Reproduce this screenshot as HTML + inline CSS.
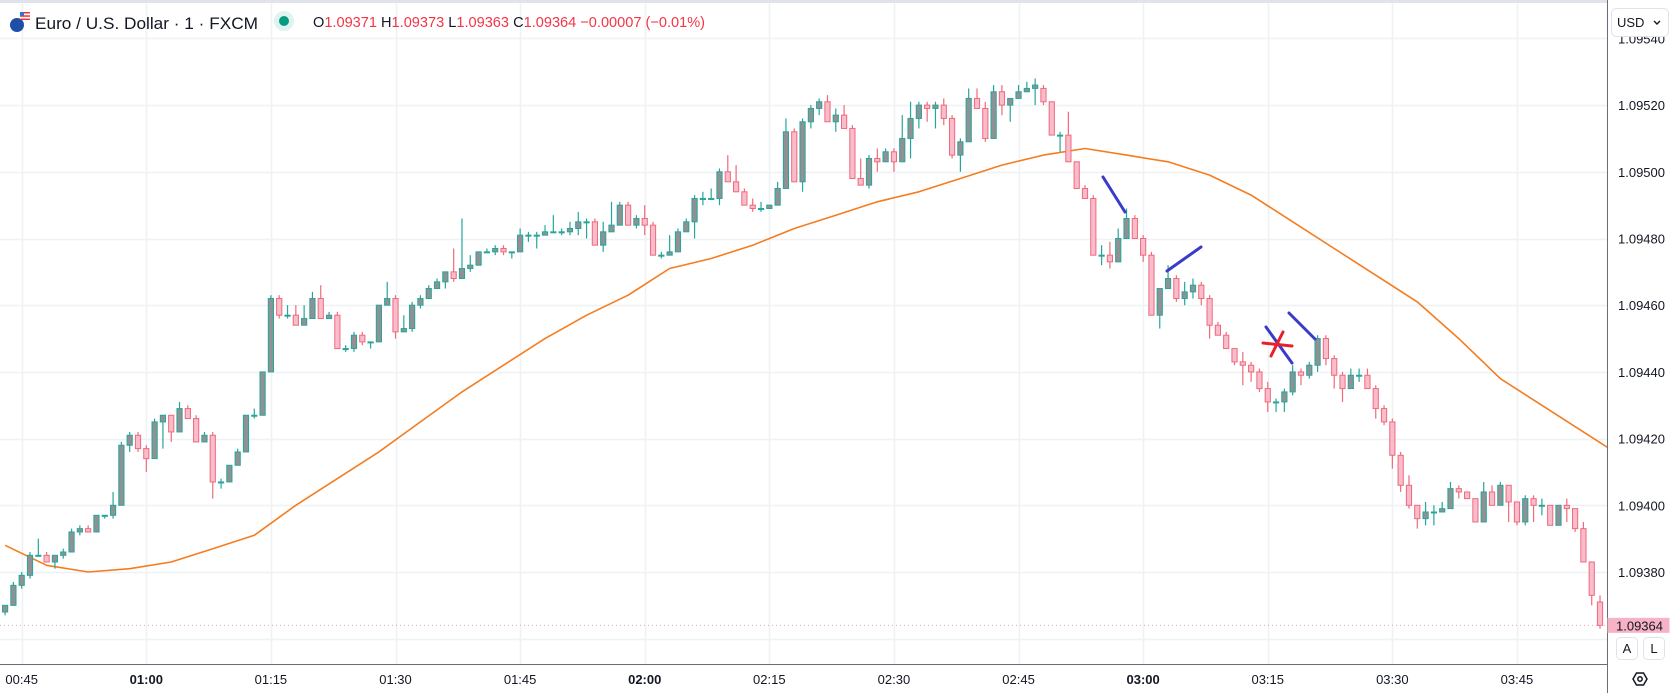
<!DOCTYPE html>
<html><head><meta charset="utf-8"><title>EURUSD 1m</title>
<style>
html,body{margin:0;padding:0;background:#fff;width:1674px;height:693px;overflow:hidden;font-family:"Liberation Sans",sans-serif}
svg{display:block}
text{font-family:"Liberation Sans",sans-serif}
</style></head><body>
<svg id="chart" width="1674" height="693" viewBox="0 0 1674 693" xmlns="http://www.w3.org/2000/svg">
<defs><clipPath id="plotClip"><rect x="0" y="0" width="1607" height="664"/></clipPath></defs>
<rect x="0" y="0" width="1674" height="693" fill="#ffffff"/>
<g id="grid"></g>
<g id="ma" clip-path="url(#plotClip)"></g>
<g id="candles" clip-path="url(#plotClip)"></g>
<g id="drawings">
  <line x1="1103" y1="177" x2="1125" y2="212" stroke="#3a3acb" stroke-width="3" stroke-linecap="round"/>
  <line x1="1167" y1="271" x2="1201" y2="247" stroke="#3a3acb" stroke-width="3" stroke-linecap="round"/>
  <line x1="1266" y1="327" x2="1292" y2="363" stroke="#3a3acb" stroke-width="3" stroke-linecap="round"/>
  <line x1="1289" y1="313" x2="1315" y2="339" stroke="#3a3acb" stroke-width="3" stroke-linecap="round"/>
  <line x1="1263" y1="343" x2="1292" y2="346" stroke="#e8202a" stroke-width="3" stroke-linecap="round"/>
  <line x1="1283" y1="332" x2="1271" y2="356" stroke="#e8202a" stroke-width="3" stroke-linecap="round"/>
</g>
<g id="axes"></g>
<g>
  <rect x="0" y="0" width="1607" height="3" fill="#e0e3eb"/>
  <g>
    <circle cx="17" cy="25" r="7" fill="#1e4fa8"/>
    <rect x="20" y="12" width="10" height="8" fill="#e33"/>
    <rect x="20" y="13.5" width="10" height="1.8" fill="#fff"/>
    <rect x="20" y="16.8" width="10" height="1.8" fill="#fff"/>
    <rect x="20" y="12" width="4" height="4" fill="#3b6fd0"/>
  </g>
  <text x="35" y="29" font-size="17" fill="#131722" textLength="223" lengthAdjust="spacingAndGlyphs">Euro / U.S. Dollar · 1 · FXCM</text>
  <circle cx="284" cy="21" r="10" fill="#dff3ef"/>
  <circle cx="284" cy="21" r="5" fill="#089981"/>
  <text x="313" y="27" font-size="15" textLength="392" lengthAdjust="spacingAndGlyphs"><tspan fill="#131722">O</tspan><tspan fill="#f23645">1.09371</tspan><tspan fill="#131722"> H</tspan><tspan fill="#f23645">1.09373</tspan><tspan fill="#131722"> L</tspan><tspan fill="#f23645">1.09363</tspan><tspan fill="#131722"> C</tspan><tspan fill="#f23645">1.09364 −0.00007 (−0.01%)</tspan></text>
</g>
<g>
  <rect x="1611.5" y="8.5" width="57" height="28" rx="5" fill="#fff" stroke="#e0e3eb"/>
  <text x="1617" y="27" font-size="13" fill="#131722">USD</text>
  <path d="M1654 21 l3 3 l3 -3" fill="none" stroke="#131722" stroke-width="1.4"/>
</g>
<g>
  <rect x="1616.5" y="637.5" width="21" height="22" rx="4" fill="#fff" stroke="#e0e3eb"/>
  <text x="1627" y="653" font-size="13" fill="#131722" text-anchor="middle">A</text>
</g>
<g>
  <rect x="1643.5" y="637.5" width="21" height="22" rx="4" fill="#fff" stroke="#e0e3eb"/>
  <text x="1654" y="653" font-size="13" fill="#131722" text-anchor="middle">L</text>
</g>
<g>
  <path d="M1633 679 l3.5 -6 h7 l3.5 6 l-3.5 6 h-7 z" fill="none" stroke="#131722" stroke-width="1.5"/>
  <circle cx="1640" cy="679" r="2.2" fill="none" stroke="#131722" stroke-width="1.5"/>
</g>
</svg>
<script>
// ---- data ----
const startMinute = 43; // 00:43
const openPrices = [1.09368,1.09370,1.09376,1.09379,1.09385,1.09385,1.09383,1.09385,1.09386,1.09392,1.09393,1.09392,1.09397,1.09397,1.09400,1.09418,1.09421,1.09417,1.09414,1.09425,1.09427,1.09422,1.09429,1.09426,1.09419,1.09421,1.09407,1.09407,1.09412,1.09416,1.09427,1.09427,1.09440,1.09462,1.09457,1.09457,1.09454,1.09456,1.09462,1.09456,1.09457,1.09447,1.09447,1.09451,1.09449,1.09449,1.09460,1.09462,1.09452,1.09453,1.09460,1.09462,1.09465,1.09467,1.09470,1.09468,1.09471,1.09472,1.09476,1.09476,1.09477,1.09476,1.09476,1.09481,1.09481,1.09481,1.09482,1.09482,1.09482,1.09483,1.09485,1.09485,1.09478,1.09482,1.09484,1.09490,1.09484,1.09486,1.09484,1.09475,1.09475,1.09476,1.09482,1.09485,1.09492,1.09492,1.09492,1.09500,1.09497,1.09494,1.09490,1.09489,1.09489,1.09490,1.09495,1.09512,1.09497,1.09515,1.09519,1.09521,1.09515,1.09517,1.09513,1.09498,1.09496,1.09504,1.09503,1.09506,1.09503,1.09510,1.09516,1.09520,1.09519,1.09520,1.09516,1.09505,1.09509,1.09522,1.09519,1.09510,1.09524,1.09520,1.09522,1.09524,1.09525,1.09525,1.09521,1.09511,1.09511,1.09503,1.09495,1.09492,1.09475,1.09475,1.09473,1.09480,1.09486,1.09480,1.09475,1.09457,1.09465,1.09468,1.09462,1.09464,1.09466,1.09462,1.09454,1.09451,1.09447,1.09443,1.09442,1.09440,1.09435,1.09431,1.09431,1.09434,1.09440,1.09439,1.09442,1.09450,1.09444,1.09439,1.09435,1.09439,1.09439,1.09435,1.09429,1.09425,1.09415,1.09406,1.09400,1.09396,1.09398,1.09398,1.09399,1.09405,1.09404,1.09402,1.09395,1.09404,1.09400,1.09406,1.09401,1.09395,1.09402,1.09400,1.09400,1.09394,1.09400,1.09399,1.09393,1.09383,1.09371];
const highPrices = [1.09370,1.09377,1.09380,1.09386,1.09390,1.09386,1.09385,1.09387,1.09393,1.09394,1.09394,1.09397,1.09397,1.09404,1.09419,1.09422,1.09422,1.09418,1.09426,1.09427,1.09427,1.09431,1.09430,1.09427,1.09422,1.09422,1.09408,1.09412,1.09417,1.09427,1.09429,1.09440,1.09463,1.09463,1.09460,1.09460,1.09460,1.09464,1.09466,1.09458,1.09458,1.09448,1.09452,1.09452,1.09449,1.09460,1.09467,1.09463,1.09457,1.09461,1.09463,1.09466,1.09468,1.09470,1.09477,1.09486,1.09475,1.09476,1.09477,1.09478,1.09478,1.09476,1.09483,1.09482,1.09482,1.09484,1.09487,1.09483,1.09485,1.09488,1.09486,1.09486,1.09485,1.09491,1.09491,1.09491,1.09487,1.09490,1.09485,1.09476,1.09481,1.09483,1.09486,1.09493,1.09494,1.09495,1.09501,1.09505,1.09502,1.09495,1.09492,1.09491,1.09490,1.09497,1.09516,1.09513,1.09516,1.09520,1.09522,1.09523,1.09519,1.09520,1.09514,1.09504,1.09505,1.09507,1.09507,1.09507,1.09517,1.09521,1.09521,1.09521,1.09521,1.09522,1.09517,1.09510,1.09525,1.09525,1.09521,1.09526,1.09526,1.09522,1.09526,1.09527,1.09528,1.09526,1.09521,1.09512,1.09518,1.09503,1.09496,1.09493,1.09478,1.09479,1.09483,1.09489,1.09487,1.09481,1.09476,1.09465,1.09472,1.09469,1.09467,1.09468,1.09467,1.09463,1.09455,1.09452,1.09447,1.09446,1.09443,1.09441,1.09437,1.09432,1.09435,1.09442,1.09441,1.09443,1.09451,1.09451,1.09445,1.09440,1.09441,1.09441,1.09441,1.09436,1.09430,1.09426,1.09416,1.09409,1.09400,1.09401,1.09400,1.09401,1.09407,1.09406,1.09404,1.09402,1.09407,1.09406,1.09407,1.09406,1.09401,1.09403,1.09403,1.09402,1.09400,1.09400,1.09402,1.09399,1.09395,1.09383,1.09373];
const lowPrices = [1.09367,1.09370,1.09375,1.09378,1.09385,1.09383,1.09381,1.09384,1.09386,1.09391,1.09392,1.09392,1.09396,1.09396,1.09400,1.09416,1.09416,1.09410,1.09414,1.09417,1.09419,1.09422,1.09426,1.09419,1.09419,1.09402,1.09405,1.09407,1.09412,1.09416,1.09426,1.09427,1.09440,1.09456,1.09456,1.09454,1.09454,1.09456,1.09456,1.09456,1.09447,1.09446,1.09446,1.09448,1.09447,1.09449,1.09460,1.09450,1.09452,1.09452,1.09459,1.09462,1.09465,1.09465,1.09467,1.09468,1.09470,1.09472,1.09476,1.09475,1.09475,1.09474,1.09476,1.09479,1.09477,1.09481,1.09482,1.09481,1.09481,1.09481,1.09480,1.09478,1.09476,1.09482,1.09484,1.09484,1.09483,1.09481,1.09475,1.09474,1.09475,1.09476,1.09482,1.09480,1.09490,1.09492,1.09490,1.09497,1.09494,1.09490,1.09488,1.09488,1.09489,1.09490,1.09495,1.09497,1.09494,1.09513,1.09517,1.09515,1.09512,1.09513,1.09498,1.09496,1.09495,1.09500,1.09503,1.09500,1.09503,1.09504,1.09513,1.09515,1.09513,1.09514,1.09504,1.09500,1.09509,1.09519,1.09509,1.09510,1.09517,1.09515,1.09522,1.09524,1.09520,1.09520,1.09511,1.09506,1.09503,1.09495,1.09492,1.09475,1.09472,1.09471,1.09473,1.09480,1.09480,1.09473,1.09457,1.09453,1.09465,1.09461,1.09460,1.09462,1.09460,1.09450,1.09451,1.09447,1.09442,1.09436,1.09437,1.09434,1.09428,1.09428,1.09428,1.09433,1.09436,1.09438,1.09440,1.09442,1.09435,1.09431,1.09435,1.09437,1.09435,1.09426,1.09424,1.09411,1.09404,1.09399,1.09393,1.09394,1.09394,1.09398,1.09399,1.09402,1.09402,1.09395,1.09395,1.09400,1.09400,1.09395,1.09394,1.09394,1.09395,1.09397,1.09394,1.09394,1.09395,1.09392,1.09383,1.09370,1.09363];
const closePrices = [1.09370,1.09376,1.09379,1.09385,1.09385,1.09383,1.09385,1.09386,1.09392,1.09393,1.09392,1.09397,1.09397,1.09400,1.09418,1.09421,1.09417,1.09414,1.09425,1.09427,1.09422,1.09429,1.09426,1.09419,1.09421,1.09407,1.09407,1.09412,1.09416,1.09427,1.09427,1.09440,1.09462,1.09457,1.09457,1.09454,1.09456,1.09462,1.09456,1.09457,1.09447,1.09447,1.09451,1.09449,1.09449,1.09460,1.09462,1.09452,1.09453,1.09460,1.09462,1.09465,1.09467,1.09470,1.09468,1.09471,1.09472,1.09476,1.09476,1.09477,1.09476,1.09476,1.09481,1.09481,1.09481,1.09482,1.09482,1.09482,1.09483,1.09485,1.09485,1.09478,1.09482,1.09484,1.09490,1.09484,1.09486,1.09484,1.09475,1.09475,1.09476,1.09482,1.09485,1.09492,1.09492,1.09492,1.09500,1.09497,1.09494,1.09490,1.09489,1.09489,1.09490,1.09495,1.09512,1.09497,1.09515,1.09519,1.09521,1.09515,1.09517,1.09513,1.09498,1.09496,1.09504,1.09503,1.09506,1.09503,1.09510,1.09516,1.09520,1.09519,1.09520,1.09516,1.09505,1.09509,1.09522,1.09519,1.09510,1.09524,1.09520,1.09522,1.09524,1.09525,1.09526,1.09521,1.09511,1.09511,1.09503,1.09495,1.09492,1.09475,1.09475,1.09473,1.09480,1.09486,1.09480,1.09475,1.09457,1.09465,1.09468,1.09462,1.09464,1.09466,1.09462,1.09454,1.09451,1.09447,1.09443,1.09442,1.09440,1.09435,1.09431,1.09431,1.09434,1.09440,1.09439,1.09442,1.09450,1.09444,1.09439,1.09435,1.09439,1.09439,1.09435,1.09429,1.09425,1.09415,1.09406,1.09400,1.09396,1.09398,1.09398,1.09399,1.09405,1.09404,1.09402,1.09395,1.09404,1.09400,1.09406,1.09401,1.09395,1.09402,1.09400,1.09400,1.09394,1.09400,1.09399,1.09393,1.09383,1.09373,1.09364];
const maMinutes = [43,48,53,58,63,68,73,78,83,88,93,98,103,108,113,118,123,128,133,138,143,148,153,158,163,168,173,178,183,188,193,198,203,208,213,218,223,228,233,238];
const maValues = [1.09388,1.09382,1.09380,1.09381,1.09383,1.09387,1.09391,1.09400,1.09408,1.09416,1.09425,1.09434,1.09442,1.09450,1.09457,1.09463,1.09471,1.09474,1.09478,1.09483,1.09487,1.09491,1.09494,1.09498,1.09502,1.09505,1.09507,1.09505,1.09503,1.09499,1.09493,1.09485,1.09477,1.09469,1.09461,1.09450,1.09438,1.09430,1.09422,1.09414];
const priceTicks = [1.09540,1.09520,1.09500,1.09480,1.09460,1.09440,1.09420,1.09400,1.09380,1.09360];
const priceTickLabels = ["1.09540","1.09520","1.09500","1.09480","1.09460","1.09440","1.09420","1.09400","1.09380",""];
const timeTicks = [45,60,75,90,105,120,135,150,165,180,195,210,225];
const timeTickLabels = ["00:45","01:00","01:15","01:30","01:45","02:00","02:15","02:30","02:45","03:00","03:15","03:30","03:45"];
const lastPrice = 1.09364;

// ---- axis functions ----
const plotRight = 1607, plotBottom = 664;
function yScale(p){ return 572 - (p - 1.09380) * 333500; }
function xScale(m){ return 21.7 + (m - 45) * 8.307; }

const NS = "http://www.w3.org/2000/svg";
function mk(tag, attrs, parent){ const e = document.createElementNS(NS, tag); for (const k in attrs) e.setAttribute(k, attrs[k]); parent.appendChild(e); return e; }

const grid = document.getElementById('grid');
priceTicks.forEach(p => {
  const y = Math.round(yScale(p)) + 0.5;
  const l = mk('line', {x1:0, x2:plotRight, y1:y, y2:y, stroke:'#eef1f5', 'stroke-width':1.5}, grid);
  
  
});
timeTicks.forEach(m => {
  const x = Math.round(xScale(m)) + 0.5;
  const l = mk('line', {x1:x, x2:x, y1:0, y2:plotBottom, stroke:'#eef1f5', 'stroke-width':1.5}, grid);
  
  
});

// MA line
const maG = document.getElementById('ma');
const pts = maMinutes.map((m, i) => xScale(m).toFixed(1) + ',' + yScale(maValues[i]).toFixed(1)).join(' ');
const maLine = mk('polyline', {points: pts, fill:'none', stroke:'#f57c1f', 'stroke-width':1.6, 'stroke-linejoin':'round'}, maG);



// candles
const cg = document.getElementById('candles');
closePrices.forEach((c, i) => {
  const o = openPrices[i], h = highPrices[i], l = lowPrices[i];
  const x = xScale(startMinute + i);
  const up = c >= o;
  const stroke = up ? '#26a69a' : '#ef6a7a';
  const fill = up ? '#8f9294' : '#f9bccc';
  const g = mk('g', {}, cg);
  
  
  const w = mk('line', {x1:x, x2:x, y1:yScale(h), y2:yScale(l), stroke:stroke, 'stroke-width':1.2}, g);
  
  
  const top = yScale(Math.max(o, c)), bot = yScale(Math.min(o, c));
  const b = mk('rect', {x:x - 2.6, y:top, width:5.2, height:Math.max(bot - top, 1), fill:fill, stroke:stroke, 'stroke-width':1}, g);
  
  
});

// axes
const ax = document.getElementById('axes');
const pl = mk('line', {x1:0, x2:plotRight, y1:yScale(lastPrice), y2:yScale(lastPrice), stroke:'#f7a1b4', 'stroke-width':1, 'stroke-dasharray':'1 3'}, ax);


const pa = mk('rect', {x:plotRight, y:0, width:1674 - plotRight, height:693, fill:'#fff'}, ax);


const ta = mk('rect', {x:0, y:plotBottom, width:plotRight, height:693 - plotBottom, fill:'#fff'}, ax);


const vl = mk('line', {x1:plotRight + 0.5, x2:plotRight + 0.5, y1:0, y2:693, stroke:'#6a6d78', 'stroke-width':1}, ax);


const hl = mk('line', {x1:0, x2:plotRight, y1:plotBottom + 0.5, y2:plotBottom + 0.5, stroke:'#6a6d78', 'stroke-width':1}, ax);


priceTicks.forEach((p, i) => {
  if (!priceTickLabels[i]) return;
  const t = mk('text', {x:1618, y:yScale(p) + 5, 'font-size':13, fill:'#131722'}, ax);
  t.textContent = priceTickLabels[i];
  
  
});
timeTicks.forEach((m, i) => {
  const t = mk('text', {x:xScale(m), y:684, 'font-size':13, fill:'#131722', 'text-anchor':'middle', 'font-weight': (m % 60 === 0) ? 'bold' : 'normal'}, ax);
  t.textContent = timeTickLabels[i];
  
  
});
const lpY = yScale(lastPrice);
const lb = mk('rect', {x:plotRight + 0.5, y:lpY - 7.5, width:62, height:15, fill:'#f7b3c5'}, ax);


const lt = mk('text', {x:1616, y:lpY + 5, 'font-size':13, fill:'#131722'}, ax);
lt.textContent = lastPrice.toFixed(5);


const svg = document.getElementById('chart');
['drawings'].forEach(id => svg.insertBefore(document.getElementById(id), ax));
</script>
</body></html>
